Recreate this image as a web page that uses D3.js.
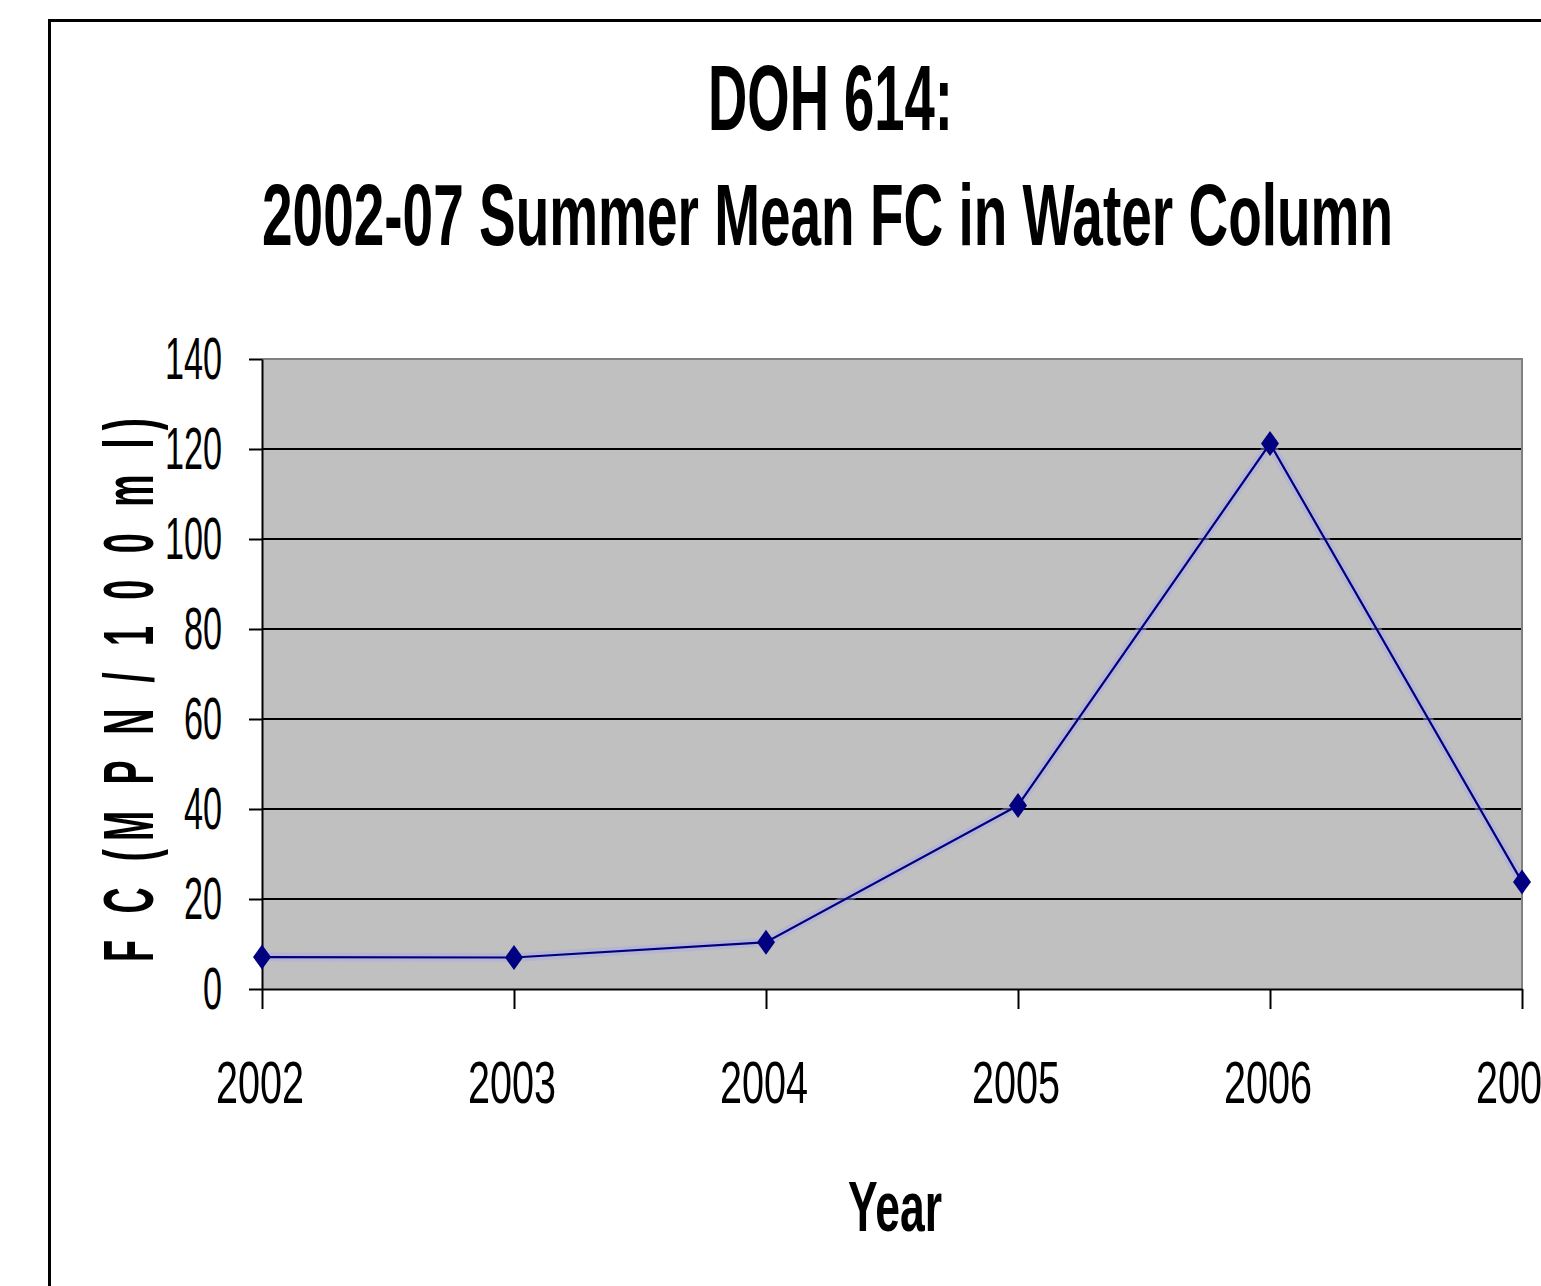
<!DOCTYPE html>
<html>
<head>
<meta charset="utf-8">
<script src="https://cdn.jsdelivr.net/npm/d3@7"></script>
<style>
  html, body { margin: 0; padding: 0; background: #fff; overflow: hidden; }
  svg { display: block; }
</style>
</head>
<body>
<svg id="chart" width="1541" height="1286"></svg>
<script>
// Summer mean fecal coliform, station DOH 614
const years = ["2002", "2003", "2004", "2005", "2006", "2007"];
const fcMean = [7.1, 7.0, 10.4, 40.8, 121.2, 23.8];
const yTicks = [0, 20, 40, 60, 80, 100, 120, 140];
const titleLines = ["DOH 614:", "2002-07 Summer Mean FC in Water Column"];
const xTitle = "Year";
const yTitle = "F C (M P N / 1 0 0 m l)";

const FONT = "'Liberation Sans', Arial, Helvetica, sans-serif";
const svg = d3.select("#chart");
const plot = { left: 262, right: 1522, top: 359, bottom: 989 };

const x = d3.scalePoint().domain(years).range([plot.left, plot.right]);
const y = d3.scaleLinear().domain([0, 140]).range([plot.bottom, plot.top]);

// chart frame
svg.append("rect")
  .attr("x", 49.5).attr("y", 20.5)
  .attr("width", 1700).attr("height", 1500)
  .attr("fill", "none").attr("stroke", "#000").attr("stroke-width", 3);

// narrow text: horizontally squeezed, optionally fitted to a width
function label(parent, str, o) {
  const g = parent.append("g")
    .attr("transform", `translate(${o.x},${o.y})` + (o.rotate ? ` rotate(${o.rotate})` : ""));
  const t = g.append("text").text(str)
    .attr("font-family", FONT)
    .attr("font-size", o.size)
    .attr("font-weight", o.weight || "normal")
    .attr("text-anchor", o.anchor || "middle")
    .attr("fill", "#000");
  if (o.spacing) t.attr("letter-spacing", o.spacing);
  let k = o.sx || 1;
  if (o.width) k = o.width / t.node().getComputedTextLength();
  t.attr("transform", `scale(${k},1)`);
  return t;
}

// titles
label(svg, titleLines[0], { x: 830.5, y: 130, size: 93.6, weight: "bold", width: 245 });
label(svg, titleLines[1], { x: 827.5, y: 245, size: 88, weight: "bold", width: 1131 });
label(svg, xTitle, { x: 895, y: 1231, size: 71, weight: "bold", width: 94 });
label(svg, yTitle, { x: 153, y: 962, size: 71, weight: "bold", anchor: "start",
  rotate: -90, spacing: 16, width: 552 });

// plot area
svg.append("rect")
  .attr("x", plot.left).attr("y", plot.top)
  .attr("width", plot.right - plot.left).attr("height", plot.bottom - plot.top)
  .attr("fill", "#c0c0c0");

// horizontal gridlines
svg.append("g").selectAll("line")
  .data(yTicks.filter(v => v > 0 && v < 140))
  .join("line")
  .attr("x1", plot.left).attr("x2", plot.right)
  .attr("y1", d => y(d)).attr("y2", d => y(d))
  .attr("stroke", "#000").attr("stroke-width", 2);

// top and right border of the plot area
svg.append("path")
  .attr("d", `M${plot.left},${plot.top}H${plot.right}V${plot.bottom}`)
  .attr("fill", "none").attr("stroke", "#808080").attr("stroke-width", 2);

// y axis
const gy = svg.append("g")
  .attr("transform", `translate(${plot.left},0)`)
  .call(d3.axisLeft(y).tickValues(yTicks).tickSize(13).tickSizeOuter(0));
gy.selectAll("path, line").attr("stroke", "#000").attr("stroke-width", 2);
gy.selectAll(".tick text")
  .attr("x", null).attr("dy", null)
  .attr("font-family", FONT).attr("font-size", 60)
  .attr("text-anchor", "end").attr("fill", "#000")
  .attr("transform", "translate(-40,19) scale(0.57,1)");

// x axis
const gx = svg.append("g")
  .attr("transform", `translate(0,${plot.bottom})`)
  .call(d3.axisBottom(x).tickSize(20).tickSizeOuter(0));
gx.selectAll("path, line").attr("stroke", "#000").attr("stroke-width", 2);
gx.selectAll(".tick text")
  .attr("y", null).attr("dy", null)
  .attr("font-family", FONT).attr("font-size", 60)
  .attr("text-anchor", "middle").attr("fill", "#000")
  .attr("transform", "translate(-2.5,114) scale(0.66,1)");

// series line
const pts = years.map((yr, i) => [x(yr), y(fcMean[i])]);
const line = d3.line();
svg.append("path")
  .attr("d", line(pts))
  .attr("fill", "none").attr("stroke", "#a8a8e6").attr("stroke-opacity", 0.45)
  .attr("stroke-width", 9).attr("stroke-linejoin", "round");
svg.append("path")
  .attr("d", line(pts))
  .attr("fill", "none").attr("stroke", "#000080").attr("stroke-width", 2.2);

// diamond markers
svg.append("g").selectAll("path")
  .data(pts)
  .join("path")
  .attr("transform", d => `translate(${d[0]},${d[1]})`)
  .attr("d", "M0,-12.5L9,0L0,12.5L-9,0Z")
  .attr("fill", "#000080");
</script>
</body>
</html>
